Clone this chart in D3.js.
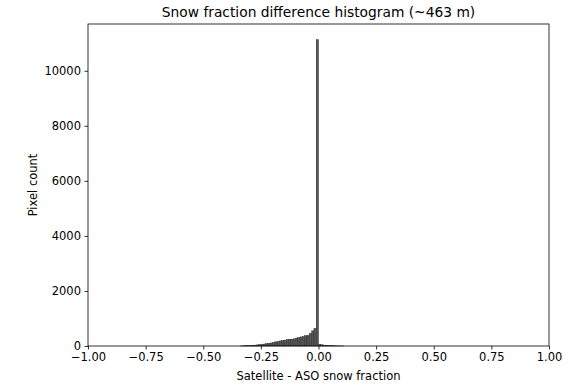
<!DOCTYPE html>
<html><head><meta charset="utf-8">
<script src="https://cdn.jsdelivr.net/npm/d3@7"></script>
<style>body{margin:0;background:#fff}svg{display:block}text{font-family:"DejaVu Sans",sans-serif;fill:#000}</style>
</head><body>
<svg id="c" width="576" height="386"></svg>
<script>
const binWidth = 0.01;
const binStarts = [-0.34,-0.33,-0.32,-0.31,-0.30,-0.29,-0.28,-0.27,-0.26,-0.25,-0.24,-0.23,-0.22,-0.21,-0.20,-0.19,-0.18,-0.17,-0.16,-0.15,-0.14,-0.13,-0.12,-0.11,-0.10,-0.09,-0.08,-0.07,-0.06,-0.05,-0.04,-0.03,-0.02,-0.01,0.00,0.01,0.02,0.03,0.04,0.05,0.06,0.07,0.08,0.09,0.10];
const counts = [3,5,8,12,18,24,32,40,50,60,70,85,100,110,130,150,165,185,200,215,235,245,250,260,290,305,330,345,375,385,460,550,640,11130,60,45,30,20,15,10,8,5,4,3,2];
const xTicks = [-1.00,-0.75,-0.50,-0.25,0.00,0.25,0.50,0.75,1.00];
const yTicks = [0,2000,4000,6000,8000,10000];
const title = "Snow fraction difference histogram (~463 m)";
const xLabel = "Satellite - ASO snow fraction";
const yLabel = "Pixel count";

const svg = d3.select("#c");
const m = {l:88, r:549, t:24, b:346};
const x = d3.scaleLinear().domain([-1,1]).range([m.l,m.r]);
const y = d3.scaleLinear().domain([0,11700]).range([m.b,m.t]);

const data = binStarts.map((s,i)=>({x0:s, x1:s+binWidth, c:counts[i]}));

svg.append("g").selectAll("rect").data(data).join("rect")
  .attr("x", d=>x(d.x0)).attr("width", d=>x(d.x1)-x(d.x0))
  .attr("y", d=>y(d.c)).attr("height", d=>y(0)-y(d.c))
  .attr("fill","#555").attr("stroke","#222").attr("stroke-width",0.4);

const fmtX = d=>d3.format(".2f")(d).replace("-","\u2212");
const xa = svg.append("g").attr("transform",`translate(0,${m.b})`)
  .call(d3.axisBottom(x).tickValues(xTicks).tickFormat(fmtX).tickSize(3.5).tickPadding(3.5));
const ya = svg.append("g").attr("transform",`translate(${m.l},0)`)
  .call(d3.axisLeft(y).tickValues(yTicks).tickFormat(d3.format("d")).tickSize(3.5).tickPadding(3.5));
[xa,ya].forEach(a=>{a.selectAll("text").attr("font-size","11.5px").attr("font-family","DejaVu Sans");
  a.select(".domain").remove(); a.selectAll("line").attr("stroke","#000").attr("stroke-width",0.8);});

svg.append("rect").attr("x",m.l).attr("y",m.t).attr("width",m.r-m.l).attr("height",m.b-m.t)
  .attr("fill","none").attr("stroke","#000").attr("stroke-width",0.8);

svg.append("text").attr("x",(m.l+m.r)/2).attr("y",17).attr("text-anchor","middle")
  .attr("font-size","13.8px").text(title);
svg.append("text").attr("x",(m.l+m.r)/2).attr("y",380).attr("text-anchor","middle")
  .attr("font-size","11.5px").text(xLabel);
svg.append("text").attr("transform",`translate(37,${(m.t+m.b)/2}) rotate(-90)`).attr("text-anchor","middle")
  .attr("font-size","11.5px").text(yLabel);
</script>
</body></html>
